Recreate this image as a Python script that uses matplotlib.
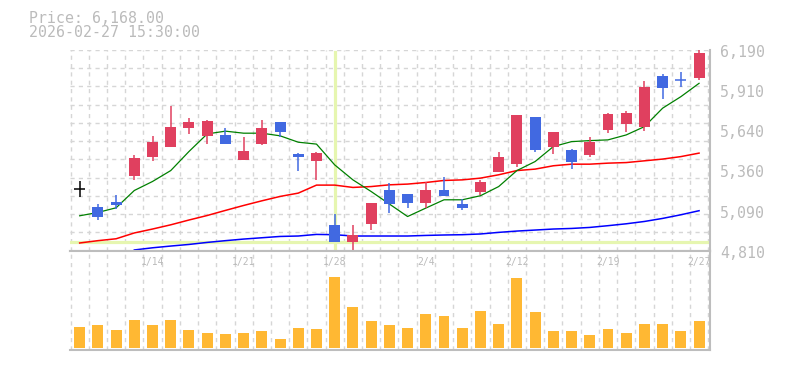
import numpy as np
import matplotlib
matplotlib.use("Agg")
import matplotlib.pyplot as plt
from matplotlib.transforms import ScaledTranslation, blended_transform_factory

# ---------------- data ----------------
dates = ["1/7", "1/8", "1/9", "1/13", "1/14", "1/15", "1/16", "1/19", "1/20", "1/21",
         "1/22", "1/23", "1/26", "1/27", "1/28", "1/29", "1/30", "2/2", "2/3", "2/4",
         "2/5", "2/6", "2/9", "2/10", "2/12", "2/13", "2/16", "2/17", "2/18", "2/19",
         "2/20", "2/24", "2/25", "2/26", "2/27"]
opens = [5236, 5112, 5146, 5327, 5457, 5526, 5657, 5602, 5606, 5437,
         5547, 5696, 5476, 5430, 4989, 4867, 4997, 5229, 5201, 5135,
         5229, 5133, 5215, 5354, 5403, 5730, 5526, 5503, 5471, 5643,
         5684, 5663, 6012, 5984, 6000]
highs = [5291, 5133, 5194, 5469, 5600, 5806, 5723, 5709, 5655, 5593,
         5709, 5696, 5481, 5488, 5064, 4989, 5140, 5275, 5201, 5282,
         5318, 5165, 5297, 5490, 5744, 5730, 5627, 5510, 5591, 5757,
         5771, 5977, 6025, 6039, 6190]
lows = [5176, 5018, 5094, 5293, 5430, 5526, 5615, 5547, 5547, 5437,
        5540, 5595, 5361, 5293, 4867, 4817, 4954, 5066, 5107, 5107,
        5183, 5087, 5194, 5354, 5387, 5490, 5478, 5375, 5457, 5622,
        5629, 5636, 5856, 5938, 5986]
closes = [5236, 5039, 5121, 5449, 5558, 5661, 5696, 5703, 5547, 5497,
          5655, 5629, 5451, 5483, 4867, 4918, 5140, 5128, 5135, 5229,
          5183, 5107, 5284, 5455, 5744, 5499, 5627, 5423, 5558, 5751,
          5757, 5936, 5931, 5984, 6168]
ma_short = [5050, 5073, 5105, 5224, 5286, 5361, 5492, 5613, 5632, 5618,
            5618, 5600, 5556, 5543, 5400, 5297, 5217, 5131, 5045, 5103,
            5160, 5160, 5188, 5251, 5361, 5423, 5526, 5560, 5567, 5572,
            5606, 5663, 5790, 5869, 5961]
ma_mid = [4863, 4879, 4892, 4932, 4959, 4988, 5021, 5052, 5087, 5121,
          5153, 5183, 5206, 5261, 5261, 5245, 5251, 5263, 5268, 5279,
          5293, 5297, 5309, 5332, 5361, 5371, 5394, 5405, 5405, 5412,
          5416, 5428, 5440, 5457, 5481]
ma_long = [np.nan, np.nan, np.nan, 4815, 4830, 4842, 4853, 4867, 4879, 4890,
           4899, 4908, 4911, 4922, 4920, 4911, 4911, 4911, 4911, 4915,
           4918, 4920, 4925, 4936, 4945, 4952, 4959, 4963, 4970, 4982,
           4995, 5011, 5032, 5057, 5085]
volumes = [21, 23, 18, 28, 23, 28, 18, 15, 14, 15,
           17, 9, 20, 19, 71, 41, 27, 23, 20, 34,
           32, 20, 37, 24, 70, 36, 17, 17, 13, 19,
           15, 24, 24, 17, 27]
x_tick_labels = ["1/14", "1/21", "1/28", "2/4", "2/12", "2/19", "2/27"]
y_tick_labels = ["4,810", "5,090", "5,360", "5,640", "5,910", "6,190"]
price_min, price_max = 4810, 6190
cursor_index = 14
title_lines = ["Price: 6,168.00", "2026-02-27 15:30:00"]

# ---------------- style ----------------
UP = "#e0405f"
DOWN = "#4169e1"
VOLC = "#ffb833"
GRID = "#d6d6d6"
SPINE = "#bdbdbd"
TXT = "#bbbbbb"
HIL = "#e6f6b0"
MONO = "DejaVu Sans Mono"

W, H, DPI = 785, 370, 100
fig = plt.figure(figsize=(W / DPI, H / DPI), dpi=DPI)
fig.patch.set_facecolor("white")

def frac_box(x0, y0, x1, y1):
    return [x0 / W, 1 - y1 / H, (x1 - x0) / W, (y1 - y0) / H]

ax = fig.add_axes(frac_box(70, 50, 710, 250.7))
axv = fig.add_axes(frac_box(70, 250.7, 710, 350))

n = len(closes)
xs = np.arange(n)
xlim = (-0.53, 34.6)

for a in (ax, axv):
    a.set_xlim(*xlim)
    a.set_facecolor("white")
    for s in ("left", "top"):
        a.spines[s].set_visible(False)
    for s in ("right", "bottom"):
        a.spines[s].set_color(SPINE)
        a.spines[s].set_linewidth(1.5)
    a.set_xticks([])
    a.set_yticks([])
    for gx in np.arange(-0.5, n, 1.0):
        a.axvline(gx, color=GRID, lw=1.0, ls=(0, (3, 3)), zorder=0)
axv.spines["top"].set_visible(True)
axv.spines["top"].set_color(SPINE)
axv.spines["top"].set_linewidth(1.5)

ax.set_ylim(price_min, price_max)
for gy in np.linspace(price_min, price_max, 12):
    ax.axhline(gy, color=GRID, lw=1.0, ls=(0, (3, 3)), zorder=0)

# crosshair highlight
ax.axvline(cursor_index, color=HIL, lw=2.3, zorder=1, ymin=0.01, ymax=0.99)
ax.axhline(closes[cursor_index], color=HIL, lw=2.3, zorder=1)

# moving averages
ax.plot(xs, ma_long, color="#0000ff", lw=1.1, zorder=2)
ax.plot(xs, ma_mid, color="#ff0000", lw=1.1, zorder=2)
ax.plot(xs, ma_short, color="#008000", lw=0.9, zorder=2)

# candles
bw = 0.6
prev_col = "black"
for i in xs:
    o, h, l, c = opens[i], highs[i], lows[i], closes[i]
    if c > o:
        col = UP
    elif c < o:
        col = DOWN
    else:
        col = prev_col
    ax.vlines(i, l, h, color=col, lw=1.1, zorder=3)
    if c == o:
        ax.hlines(c, i - bw / 2, i + bw / 2, color=col, lw=1.1, zorder=3)
    else:
        ax.bar(i, abs(c - o), bottom=min(o, c), width=bw, color=col,
               edgecolor="none", zorder=4)
    prev_col = col

# volume
axv.set_ylim(-2, 97.3)
axv.bar(xs, volumes, width=bw, color=VOLC, edgecolor="none", zorder=3)

# date labels (inside volume panel)
dtrans = blended_transform_factory(axv.transData, axv.transAxes)
for lab in x_tick_labels:
    i = dates.index(lab)
    axv.text(i, 0.886, lab, transform=dtrans, ha="center", va="center",
             fontsize=7, family=MONO, color=TXT, zorder=5)

# price labels
ytrans = ax.get_yaxis_transform() + ScaledTranslation(0, -2.5 / DPI, fig.dpi_scale_trans)
for lab, yv in zip(y_tick_labels, np.linspace(price_min, price_max, len(y_tick_labels))):
    ax.text(1 + 10 / 640, yv, lab, transform=ytrans, ha="left", va="center",
            fontsize=10.7, family=MONO, color=TXT, clip_on=False)

# header text
fig.text(29 / W, 1 - 23.3 / H, title_lines[0], ha="left", va="baseline",
         fontsize=10.7, family=MONO, color=TXT)
fig.text(29 / W, 1 - 37.3 / H, title_lines[1], ha="left", va="baseline",
         fontsize=10.7, family=MONO, color=TXT)

fig.savefig("out.png", dpi=DPI, facecolor="white")
